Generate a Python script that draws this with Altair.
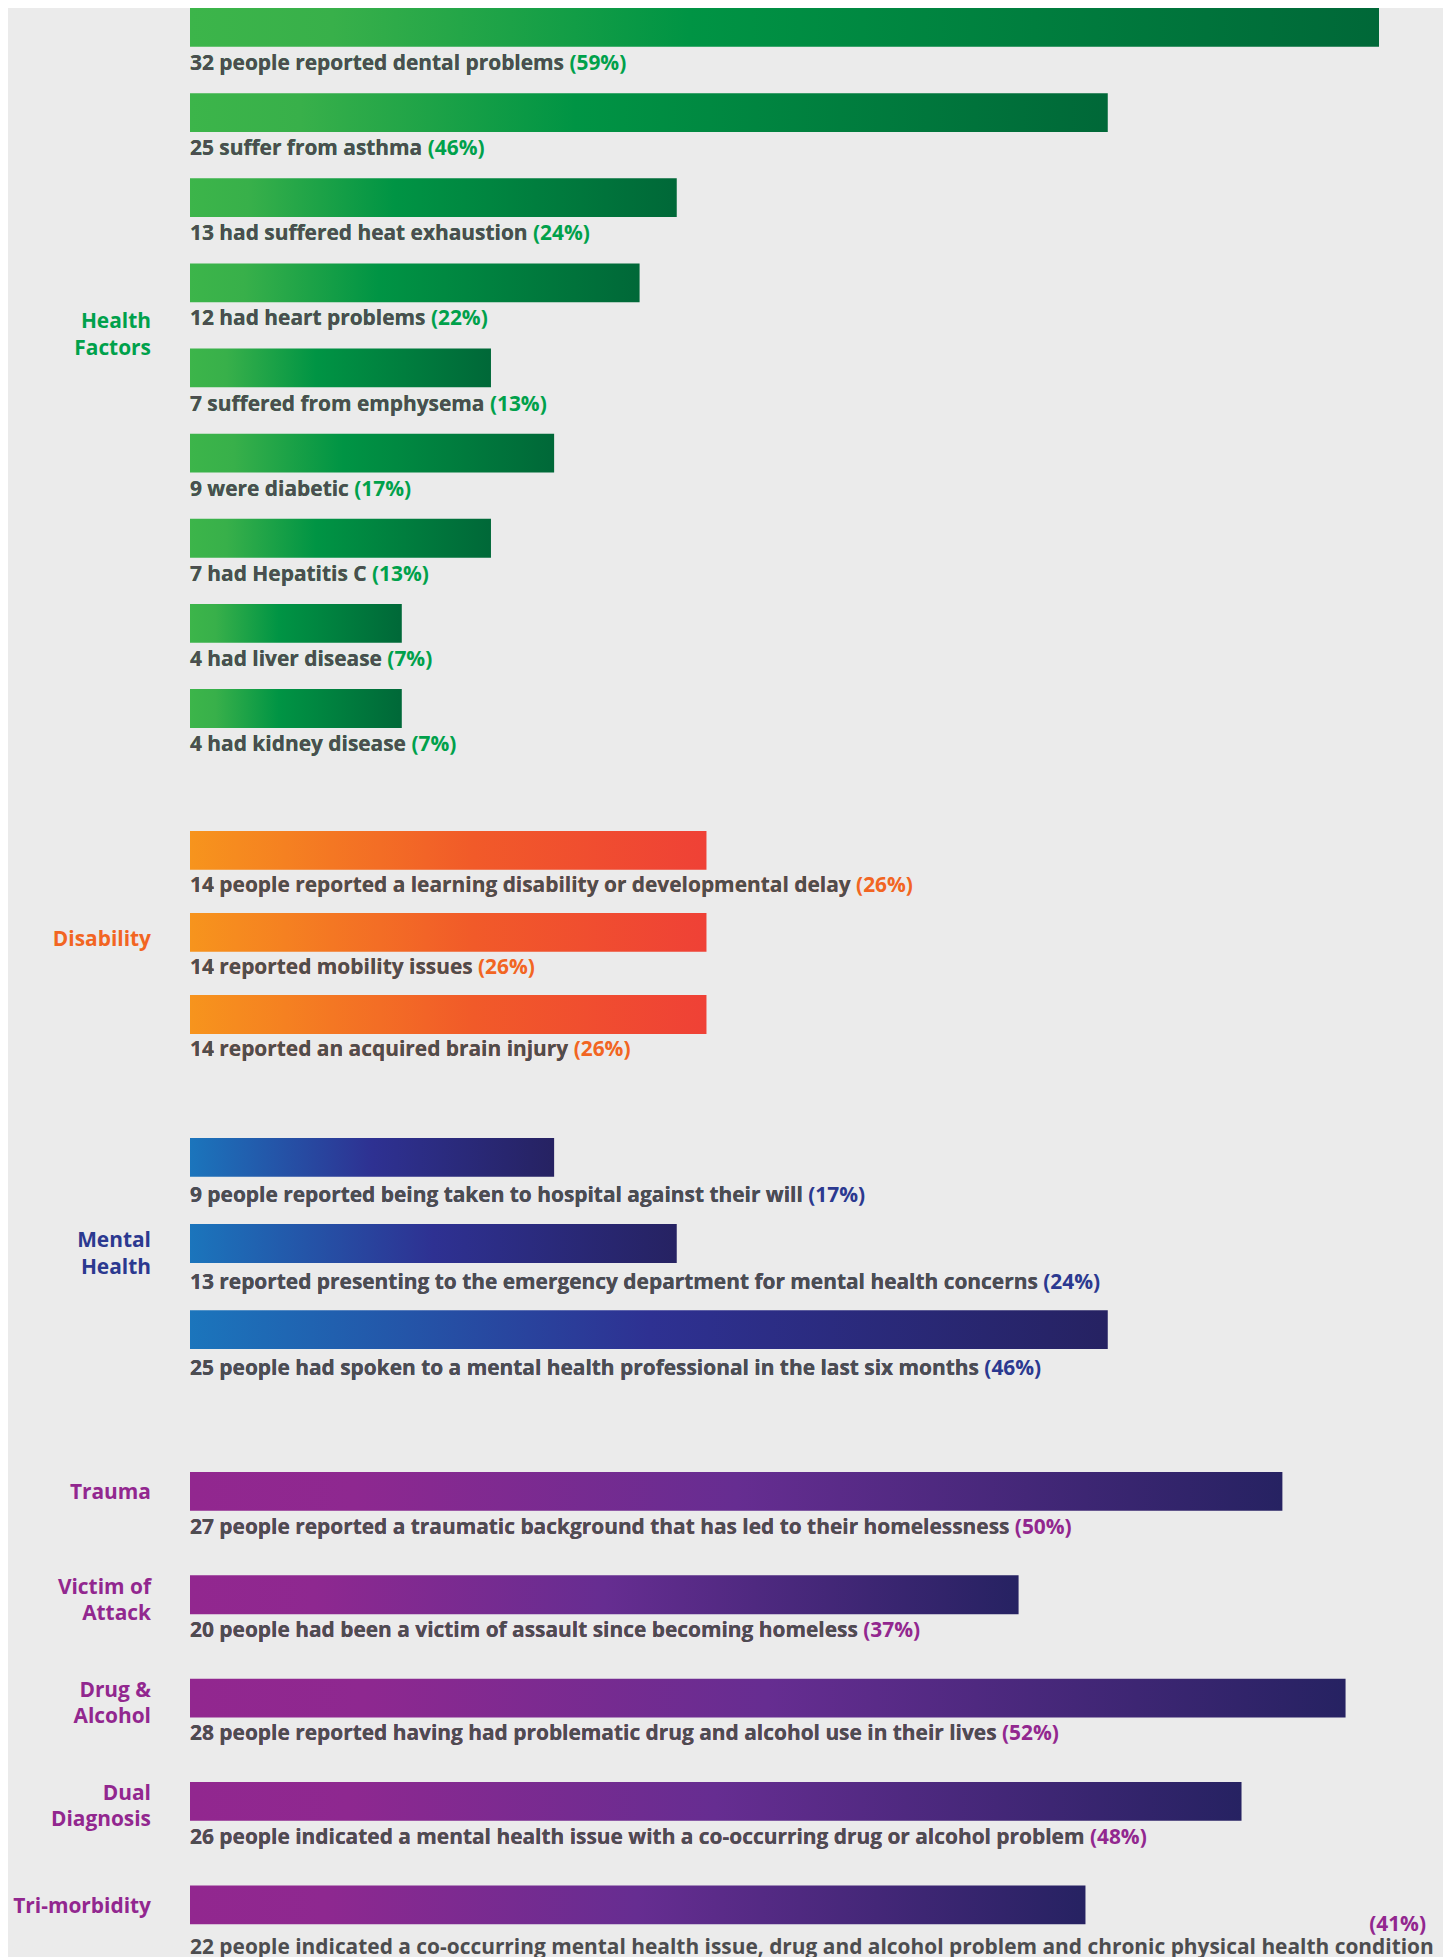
import altair as alt
import pandas as pd

# ---------------- data ----------------
health_text = [
    "32 people reported dental problems",
    "25 suffer from asthma",
    "13 had suffered heat exhaustion",
    "12 had heart problems",
    "7 suffered from emphysema",
    "9 were diabetic",
    "7 had Hepatitis C",
    "4 had liver disease",
    "4 had kidney disease",
]
health_pct = [59, 46, 24, 22, 13, 17, 13, 7, 7]
# bar lengths as drawn (people units on the chart's scale)
health_bar = [32.0, 24.7, 13.1, 12.1, 8.1, 9.8, 8.1, 5.7, 5.7]

disability_text = [
    "14 people reported a learning disability or developmental delay",
    "14 reported mobility issues",
    "14 reported an acquired brain injury",
]
disability_pct = [26, 26, 26]
disability_bar = [13.9, 13.9, 13.9]

mental_text = [
    "9 people reported being taken to hospital against their will",
    "13 reported presenting to the emergency department for mental health concerns",
    "25 people had spoken to a mental health professional in the last six months",
]
mental_pct = [17, 24, 46]
mental_bar = [9.8, 13.1, 24.7]

other_groups = ["Trauma", "Victim of\nAttack", "Drug &\nAlcohol", "Dual\nDiagnosis", "Tri-morbidity"]
other_text = [
    "27 people reported a traumatic background that has led to their homelessness",
    "20 people had been a victim of assault since becoming homeless",
    "28 people reported having had problematic drug and alcohol use in their lives",
    "26 people indicated a mental health issue with a co-occurring drug or alcohol problem",
    "22 people indicated a co-occurring mental health issue, drug and alcohol problem and chronic physical health condition",
]
other_pct = [50, 37, 52, 48, 41]
other_bar = [29.4, 22.3, 31.1, 28.3, 24.1]

group_names = ["Health\nFactors", "Disability", "Mental\nHealth"]

# ---------------- styles ----------------
GRAY = "#4d4d4f"
FONT = "Open Sans"
FS = 20.9
BAR_H = 38.8
PLOT_W = 1189
BG = "#ebebeb"

GREEN = "#00a14b"
ORANGE = "#f26522"
BLUE = "#2b3990"
PURPLE = "#92278f"


def grad(stops):
    return {
        "gradient": "linear", "x1": 0, "x2": 1, "y1": 0, "y2": 0,
        "stops": [{"offset": o, "color": c} for o, c in stops],
    }


G_GREEN = grad([(0, "#3cb54a"), (0.12, "#38b04a"), (0.42, "#009444"), (1, "#006838")])
G_ORANGE = grad([(0, "#f7941d"), (0.55, "#f15a29"), (1, "#ef4136")])
G_BLUE = grad([(0, "#1b75bc"), (0.5, "#2e3192"), (1, "#262262")])
G_PURPLE = grad([(0, "#92278f"), (0.15, "#8e2890"), (0.5, "#662d91"), (1, "#262262")])

TXT = dict(baseline="middle", font=FONT, fontSize=FS, fontWeight="bold")


def panel(texts, pcts, bars, fill, accent, height, step, text_dy,
          group=None, group_y=None, row_groups=None, special_last=False, extent=False):
    n = len(texts)
    df = pd.DataFrame({
        "row": list(range(n)),
        "desc": texts,
        "full": [f"{t} ({p}%)" for t, p in zip(texts, pcts)],
        "pct": [f"({p}%)" for p in pcts],
        "bar": bars,
    })
    if row_groups is not None:
        df["group"] = row_groups
        df["lines"] = [g.count("\n") + 1 for g in row_groups]
    pI = 1 - BAR_H / step
    pO = max(0.0, (height / step - n + pI) / 2)
    y = alt.Y("row:O", axis=None,
              scale=alt.Scale(paddingInner=pI, paddingOuter=pO, align=0))
    x = alt.X("bar:Q", axis=None, scale=alt.Scale(domain=[0, 32], nice=False))
    base = alt.Chart(df)
    layers = [base.mark_bar(fill=fill).encode(x=x, y=y)]
    normal = base.transform_filter(alt.datum.row < n - 1) if special_last else base
    layers.append(normal.mark_text(align="left", dy=text_dy, color=accent, **TXT)
                  .encode(x=alt.value(0), y=y, text="full:N"))
    layers.append(normal.mark_text(align="left", dy=text_dy, color=GRAY, **TXT)
                  .encode(x=alt.value(0), y=y, text="desc:N"))
    if special_last:
        last = base.transform_filter(alt.datum.row == n - 1)
        layers.append(last.mark_text(align="right", dy=20, color=accent, **TXT)
                      .encode(x=alt.value(1236), y=y, text="pct:N"))
        layers.append(last.mark_text(align="left", dy=43, color=GRAY, **TXT)
                      .encode(x=alt.value(0), y=y, text="desc:N"))
    if row_groups is not None:
        one = base.transform_filter(alt.datum.lines == 1)
        two = base.transform_filter(alt.datum.lines > 1)
        layers.append(one.mark_text(align="right", dy=2, color=accent, **TXT)
                      .encode(x=alt.value(-39), y=y, text="group:N"))
        layers.append(two.mark_text(align="right", dy=-7, color=accent, lineBreak="\n",
                                    lineHeight=26, **TXT)
                      .encode(x=alt.value(-39), y=y, text="group:N"))
    if group is not None:
        gdf = pd.DataFrame({"g": [group]})
        layers.append(alt.Chart(gdf).mark_text(align="right", color=accent, lineBreak="\n",
                                               lineHeight=27, **TXT)
                      .encode(x=alt.value(-39), y=alt.value(group_y), text="g:N"))
    if extent:
        layers.append(base.mark_rule(opacity=0).encode(
            x=alt.value(-182), x2=alt.value(1253), y=alt.value(0)))
    return alt.layer(*layers).properties(width=PLOT_W, height=height)


p1 = panel(health_text, health_pct, health_bar, G_GREEN, GREEN,
           height=831 - 8, step=85.14, text_dy=36.6,
           group=group_names[0], group_y=314, extent=True)
p2 = panel(disability_text, disability_pct, disability_bar, G_ORANGE, ORANGE,
           height=1137.8 - 831, step=82.05, text_dy=35.6,
           group=group_names[1], group_y=109)
p3 = panel(mental_text, mental_pct, mental_bar, G_BLUE, BLUE,
           height=1471 - 1137.8, step=86.1, text_dy=39,
           group=group_names[2], group_y=102.7)
step4 = 103.35
p4 = panel(other_text, other_pct, other_bar, G_PURPLE, PURPLE,
           height=step4 * (5 - (1 - BAR_H / step4)), step=step4, text_dy=36.1,
           row_groups=other_groups, special_last=True)

chart = alt.vconcat(p1, p2, p3, p4, spacing=0, bounds="flush").properties(
    padding={"left": 0, "top": 0, "right": 0, "bottom": 0},
    background=BG,
).configure_view(strokeWidth=0)

chart.save("out.html", embed_options={"renderer": "svg", "actions": False})
